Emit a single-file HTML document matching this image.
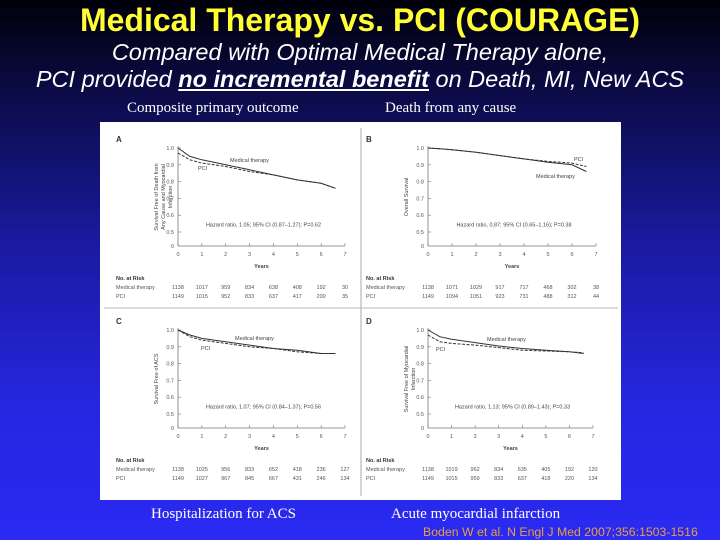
<!DOCTYPE html>
<html><head><meta charset="utf-8"><style>
html,body{margin:0;padding:0}
body{width:720px;height:540px;overflow:hidden;position:relative;background:linear-gradient(to bottom,#00000a 0%,#0a0a40 15%,#1a1aa0 45%,#2626e0 75%,#2a2af2 100%);font-family:"Liberation Sans",sans-serif}
.t{position:absolute;left:0;width:720px;text-align:center;white-space:nowrap}
</style></head><body>
<div class="t" style="top:2px;color:#ffff33;font-weight:bold;font-size:32px">Medical Therapy vs. PCI (COURAGE)</div>
<div class="t" style="top:39px;color:#fff;font-style:italic;font-size:23.5px">Compared with Optimal Medical Therapy alone,</div>
<div class="t" style="top:66px;color:#fff;font-style:italic;font-size:23.5px">PCI provided <b><u>no incremental benefit</u></b> on Death, MI, New ACS</div>
<div style="position:absolute;left:127px;top:100px;color:#fff;font-family:'Liberation Serif',serif;font-size:15px">Composite primary outcome</div>
<div style="position:absolute;left:385px;top:100px;color:#fff;font-family:'Liberation Serif',serif;font-size:15px">Death from any cause</div>
<div style="position:absolute;left:151px;top:506px;color:#fff;font-family:'Liberation Serif',serif;font-size:15px">Hospitalization for ACS</div>
<div style="position:absolute;left:391px;top:506px;color:#fff;font-family:'Liberation Serif',serif;font-size:15px">Acute myocardial infarction</div>
<div style="position:absolute;left:423px;top:525px;color:#e8a040;font-size:12.3px">Boden W et al. N Engl J Med 2007;356:1503-1516</div>
<svg id="fig" style="position:absolute;left:0;top:0" width="720" height="540"></svg>
<script>
const years=[0,0.5,1,2,3,4,5,6,6.6];
const medA=[1.0,0.95,0.93,0.90,0.87,0.84,0.81,0.79,0.76];
const pciA=[0.97,0.93,0.91,0.89,0.86,0.84,0.81,0.79,0.76];
const medB=[1.0,0.995,0.99,0.975,0.955,0.935,0.915,0.90,0.86];
const pciB=[1.0,0.995,0.99,0.975,0.955,0.935,0.92,0.91,0.89];
const medC=[1.0,0.97,0.95,0.93,0.91,0.89,0.88,0.86,0.86];
const pciC=[1.0,0.96,0.94,0.92,0.90,0.89,0.87,0.86,0.86];
const medD=[1.0,0.96,0.945,0.925,0.905,0.89,0.88,0.87,0.86];
const pciD=[0.97,0.93,0.92,0.91,0.895,0.88,0.875,0.87,0.865];
const yTicks=[1.0,0.9,0.8,0.7,0.6,0.5];
const xTicks=[0,1,2,3,4,5,6,7];
const riskA=[["1138","1017","959","834","638","408","192","30"],["1149","1015","952","833","637","417","200","35"]];
const riskB=[["1138","1071","1029","917","717","468","302","38"],["1149","1094","1051","923","731","488","312","44"]];
const riskC=[["1138","1025","956","833","652","418","236","127"],["1149","1027","967","845","667","431","246","134"]];
const riskD=[["1138","1019","962","834","635","405","192","120"],["1149","1015","959","833","637","418","220","134"]];
const NS="http://www.w3.org/2000/svg";
const svg=document.getElementById('fig');
function mk(tag,attrs,parent,text){const e=document.createElementNS(NS,tag);for(const k in attrs)e.setAttribute(k,attrs[k]);if(text!==undefined)e.textContent=text;(parent||svg).appendChild(e);return e;}
const bg=mk('rect',{x:100,y:122,width:521,height:378,fill:'#fff'});


mk('line',{x1:361,y1:128,x2:361,y2:496,stroke:'#aaa','stroke-width':1});
mk('line',{x1:104,y1:308,x2:618,y2:308,stroke:'#bbb','stroke-width':1});
function panel(letter,x0,x7,yTop,med,pci,risk,yTitle,hr,medLab,pciLab){
  const g=mk('g',{});
  
  
  const y5=yTop+84;
  const xs=v=>x0+(x7-x0)*v/7;
  const ys=v=>yTop+(1-v)/0.5*84;
  const yZero=y5+14;
  const tc='#555';
  mk('text',{x:x0-62,y:yTop-6,'font-size':8,fill:'#333','font-weight':'bold'},g,letter);
  mk('line',{x1:x0,y1:yTop-2,x2:x0,y2:yZero,stroke:'#777','stroke-width':0.8},g);
  mk('line',{x1:x0,y1:yZero,x2:x7,y2:yZero,stroke:'#777','stroke-width':0.8},g);
  yTicks.forEach(t=>{const y=ys(t);mk('line',{x1:x0,y1:y,x2:x0+3,y2:y,stroke:'#777','stroke-width':0.6},g);mk('text',{x:x0-4,y:y+2,'font-size':5.5,fill:tc,'text-anchor':'end'},g,t.toFixed(1));});
  mk('text',{x:x0-4,y:yZero+2,'font-size':5.5,fill:tc,'text-anchor':'end'},g,'0');
  xTicks.forEach(t=>{const x=xs(t);mk('line',{x1:x,y1:yZero,x2:x,y2:yZero-3,stroke:'#777','stroke-width':0.6},g);mk('text',{x:x,y:yZero+10,'font-size':5.5,fill:tc,'text-anchor':'middle'},g,String(t));});
  mk('text',{x:(x0+x7)/2,y:yZero+22,'font-size':5.5,fill:'#444','text-anchor':'middle','font-weight':'bold'},g,'Years');
  const yt=mk('text',{transform:`translate(${x0-20},${(yTop+yZero)/2}) rotate(-90)`,'font-size':5.5,fill:'#444','text-anchor':'middle'},g);
  yTitle.forEach((l,i)=>mk('tspan',{x:0,dy:i?7:0},yt,l));
  mk('text',{x:(x0+x7)/2+2,y:ys(0.55)+3,'font-size':5.5,fill:'#444','text-anchor':'middle'},g,hr);
  const line=(arr,dash,name)=>{const p=years.map((yr,i)=>(i?'L':'M')+xs(yr).toFixed(1)+','+ys(arr[i]).toFixed(1)).join(' ');const e=mk('path',{d:p,fill:'none',stroke:'#333','stroke-width':1,'stroke-dasharray':dash},g);};
  line(med,'', 'medical-therapy-curve-'+letter.toLowerCase());
  line(pci,'3,1.5','pci-curve-'+letter.toLowerCase());
  mk('text',{x:medLab[0],y:medLab[1],'font-size':5.5,fill:'#444'},g,'Medical therapy');
  mk('text',{x:pciLab[0],y:pciLab[1],'font-size':5.5,fill:'#444'},g,'PCI');
  const ry=yZero+34;
  mk('text',{x:x0-62,y:ry,'font-size':5.5,fill:'#333','font-weight':'bold'},g,'No. at Risk');
  mk('text',{x:x0-62,y:ry+9,'font-size':5.5,fill:'#555'},g,'Medical therapy');
  mk('text',{x:x0-62,y:ry+18,'font-size':5.5,fill:'#555'},g,'PCI');
  risk.forEach((row,r)=>row.forEach((v,i)=>mk('text',{x:xs(i),y:ry+9+r*9,'font-size':5.5,fill:'#555','text-anchor':'middle'},g,v)));
}
panel('A',178,345,148,medA,pciA,riskA,['Survival Free of Death from','Any Cause and Myocardial','Infarction'],'Hazard ratio, 1.05; 95% CI (0.87–1.27); P=0.62',[230,162],[198,170]);
panel('B',428,596,148,medB,pciB,riskB,['Overall Survival'],'Hazard ratio, 0.87; 95% CI (0.65–1.16); P=0.38',[536,178],[574,161]);
panel('C',178,345,330,medC,pciC,riskC,['Survival Free of ACS'],'Hazard ratio, 1.07; 95% CI (0.84–1.37); P=0.56',[235,340],[201,350]);
panel('D',428,593,330,medD,pciD,riskD,['Survival Free of Myocardial','Infarction'],'Hazard ratio, 1.13; 95% CI (0.89–1.43); P=0.33',[487,341],[436,351]);
</script>
</body></html>
